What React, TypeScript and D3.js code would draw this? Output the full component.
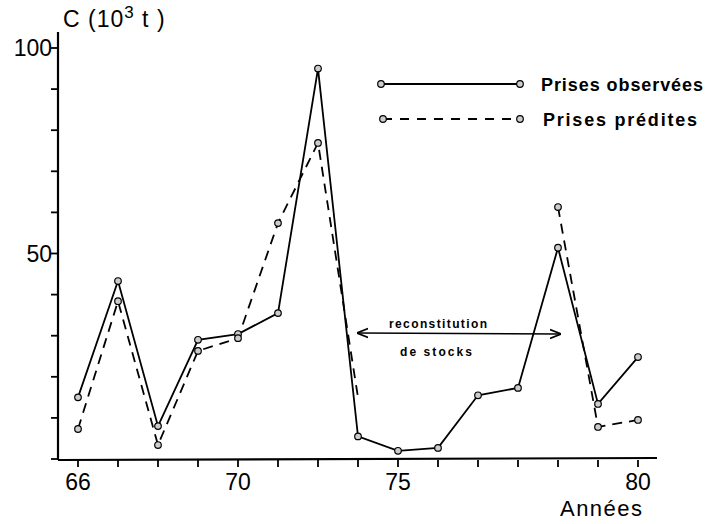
import React from "react";
import * as d3 from "d3";

// years on x axis
const years = [66, 67, 68, 69, 70, 71, 72, 73, 74, 75, 76, 77, 78, 79, 80];
// observed catches (10^3 t)
const observed = [15, 43.3, 8, 29, 30.4, 35.5, 95, 5.5, 2, 2.7, 15.5, 17.3, 51.4, 13.4, 24.8];
// predicted catches, null = not predicted
const predicted = [7.3, 38.4, 3.4, 26.3, 29.4, 57.4, 76.9, 15, null, null, null, null, 61.3, 7.8, 9.5];

const yTicks = [0, 10, 20, 30, 40, 50, 60, 70, 80, 90, 100];
const yLabels = [50, 100];
// tick labels as printed on the original figure ("75" sits one tick early)
const xLabelAt = [66, 70, 74, 80];
const xLabelText = ["66", "70", "75", "80"];

const W = 710;
const H = 524;
const font = "'Liberation Sans', Arial, sans-serif";

export default function App() {
  const x = d3.scaleLinear().domain([66, 80]).range([78, 638]);
  const y = d3.scaleLinear().domain([0, 100]).range([459, 48]);

  const obsPts = years.map((yr, i) => ({ yr, v: observed[i] }));
  const predPts = years.map((yr, i) => ({ yr, v: predicted[i] }));

  const line = d3
    .line<{ yr: number; v: number | null }>()
    .defined((d) => d.v !== null)
    .x((d) => x(d.yr))
    .y((d) => y(d.v as number));

  const axisX0 = 58;
  const axisY0 = y(0) + 1;

  return (
    <svg width={W} height={H} style={{ position: "absolute", left: 0, top: 0, background: "#fff" }}>
      {/* axes */}
      <line x1={axisX0} y1={axisY0} x2={axisX0} y2={32} stroke="#000" strokeWidth={2.2} />
      <line x1={axisX0} y1={axisY0} x2={657} y2={axisY0 - 2} stroke="#000" strokeWidth={2.2} />
      {yTicks.map((t) => (
        <line key={"yt" + t} x1={axisX0 - 7} x2={axisX0} y1={y(t)} y2={y(t)} stroke="#000" strokeWidth={1.8} />
      ))}
      {years.map((yr) => (
        <line key={"xt" + yr} x1={x(yr)} x2={x(yr)} y1={axisY0} y2={axisY0 + 7} stroke="#000" strokeWidth={1.8} />
      ))}
      {yLabels.map((t) => (
        <text key={"yl" + t} x={axisX0 - 6} y={y(t) + 8} textAnchor="end" fontFamily={font} fontSize={23}>
          {t}
        </text>
      ))}
      {xLabelAt.map((t, i) => (
        <text key={"xl" + t} x={x(t)} y={490} textAnchor="middle" fontFamily={font} fontSize={23}>
          {xLabelText[i]}
        </text>
      ))}
      <text x={63} y={27} fontFamily={font} fontSize={23} letterSpacing={1}>
        C (10<tspan dy={-9} fontSize={17}>3</tspan><tspan dy={9}>  t )</tspan>
      </text>
      <text x={560} y={516} fontFamily={font} fontSize={22} textLength={82}>
        Années
      </text>

      {/* series */}
      <path d={line(obsPts) || ""} fill="none" stroke="#000" strokeWidth={1.8} />
      <path d={line(predPts) || ""} fill="none" stroke="#000" strokeWidth={1.8} strokeDasharray="10,7" />
      {obsPts.map((d) => (
        <circle key={"o" + d.yr} cx={x(d.yr)} cy={y(d.v)} r={3.3} fill="#ccc" stroke="#000" strokeWidth={1.2} />
      ))}
      {predPts
        .filter((d) => d.v !== null && d.yr !== 73)
        .map((d) => (
          <circle key={"p" + d.yr} cx={x(d.yr)} cy={y(d.v as number)} r={3.3} fill="#ccc" stroke="#000" strokeWidth={1.2} />
        ))}

      {/* annotation */}
      <defs>
        <marker id="arr" viewBox="0 0 10 10" refX={9} refY={5} markerWidth={7} markerHeight={7} orient="auto-start-reverse">
          <path d="M0,1 L10,5 L0,9" fill="none" stroke="#000" strokeWidth={1.6} />
        </marker>
      </defs>
      <line x1={358} y1={333} x2={560} y2={334} stroke="#000" strokeWidth={1.6} markerStart="url(#arr)" markerEnd="url(#arr)" />
      <text x={389} y={328} fontFamily={font} fontSize={12} fontWeight="bold" textLength={98}>
        reconstitution
      </text>
      <text x={400} y={356} fontFamily={font} fontSize={12} fontWeight="bold" textLength={72}>
        de stocks
      </text>

      {/* legend */}
      <line x1={381} y1={84} x2={520} y2={84} stroke="#000" strokeWidth={1.8} />
      <circle cx={381} cy={84} r={3.3} fill="#ccc" stroke="#000" strokeWidth={1.2} />
      <circle cx={520} cy={84} r={3.3} fill="#ccc" stroke="#000" strokeWidth={1.2} />
      <text x={541} y={91} fontFamily={font} fontSize={18} fontWeight="bold" textLength={162}>
        Prises observées
      </text>
      <line x1={383} y1={119} x2={520} y2={119} stroke="#000" strokeWidth={1.8} strokeDasharray="9,8" />
      <circle cx={383} cy={119} r={3.3} fill="#ccc" stroke="#000" strokeWidth={1.2} />
      <circle cx={520} cy={119} r={3.3} fill="#ccc" stroke="#000" strokeWidth={1.2} />
      <text x={543} y={126} fontFamily={font} fontSize={18} fontWeight="bold" textLength={154}>
        Prises prédites
      </text>
    </svg>
  );
}
